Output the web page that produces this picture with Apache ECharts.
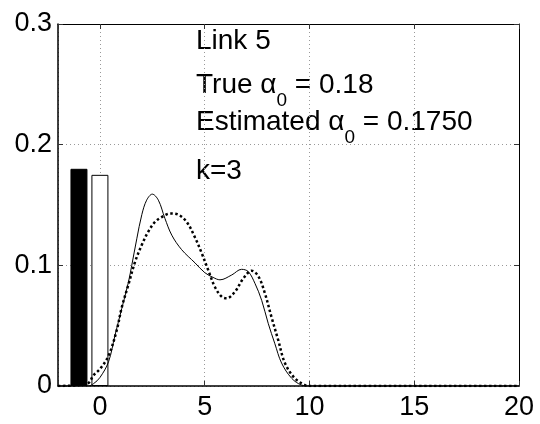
<!DOCTYPE html>
<html>
<head>
<meta charset="utf-8">
<script src="https://cdn.jsdelivr.net/npm/echarts@6/dist/echarts.min.js"></script>
<style>
html,body{margin:0;padding:0;background:#fff;}
#chart{width:540px;height:424px;}
</style>
</head>
<body>
<div id="chart"></div>
<script>
// bars: true vs estimated alpha0
var barX = [-1, 0];
var barY = [0.18, 0.175];

// solid curve
var solidX = [-2, -0.55, -0.3, 0, 0.41, 0.72, 1.04, 1.36, 1.52, 1.76, 2.0, 2.23, 2.5, 2.79, 3.1, 3.43, 3.9, 4.54, 5.0, 5.4, 5.73, 6.29, 6.76, 7.08, 7.4, 7.72, 8.03, 8.35, 8.67, 9.15, 9.62, 10, 20];
var solidY = [0, 0, 0.002, 0.007, 0.02, 0.042, 0.064, 0.086, 0.1, 0.122, 0.142, 0.154, 0.159, 0.154, 0.139, 0.125, 0.113, 0.102, 0.094, 0.09, 0.088, 0.092, 0.0967, 0.0948, 0.085, 0.071, 0.052, 0.035, 0.019, 0.0064, 0.0008, 0, 0];

// dotted curve
var dotX = [-2, -0.6, -0.3, 0, 0.41, 0.8, 1.04, 1.36, 1.68, 2.0, 2.31, 2.63, 2.95, 3.35, 3.74, 4.14, 4.54, 4.86, 5.17, 5.49, 5.81, 6.05, 6.44, 6.84, 7.24, 7.56, 7.87, 8.19, 8.51, 8.83, 9.3, 9.78, 10, 20];
var dotY = [0, 0.002, 0.009, 0.014, 0.025, 0.046, 0.065, 0.084, 0.103, 0.117, 0.128, 0.136, 0.14, 0.143, 0.142, 0.136, 0.123, 0.11, 0.096, 0.082, 0.074, 0.0727, 0.078, 0.089, 0.0955, 0.091, 0.077, 0.057, 0.038, 0.019, 0.0064, 0.0008, 0, 0];

var xLabels = [0, 5, 10, 15, 20];

var FONT = '"Liberation Sans", Arial, sans-serif';

function zip(a, b) {
  var out = [];
  for (var i = 0; i < a.length; i++) out.push([a[i], b[i]]);
  return out;
}

var barData = [
  {value: [barX[0], barY[0]], itemStyle: {color: '#000', borderColor: '#000', borderWidth: 1}},
  {value: [barX[1], barY[1]], itemStyle: {color: '#fff', borderColor: '#000', borderWidth: 1}}
];

var gridLine = {show: true, lineStyle: {color: '#999', type: [1, 3], width: 1}};
var tick = {show: true, inside: true, length: 5, lineStyle: {color: '#333'}};
var rt = {fontSize: 28, lineHeight: 28, fontFamily: FONT, color: '#000', verticalAlign: 'top'};
var rs = {fontSize: 19, lineHeight: 19, fontFamily: FONT, color: '#000', verticalAlign: 'top', padding: [20, 0, 0, 0]};

var chart = echarts.init(document.getElementById('chart'));
chart.setOption({
  backgroundColor: '#fff',
  animation: false,
  grid: {left: 58, right: 21, top: 24, bottom: 38},
  xAxis: [{
    type: 'value', min: -2, max: 20, position: 'bottom',
    axisLine: {show: true, onZero: false, lineStyle: {color: '#000', width: 1.5}},
    axisTick: tick,
    splitLine: gridLine,
    axisLabel: {
      color: '#000', fontSize: 27, fontFamily: FONT, margin: 8,
      formatter: function (v) { return xLabels.indexOf(v) >= 0 ? String(v) : ''; }
    }
  }, {
    type: 'value', min: -2, max: 20, position: 'top',
    axisLine: {show: true, onZero: false, lineStyle: {color: '#000', width: 1}},
    axisTick: tick, axisLabel: {show: false}, splitLine: {show: false}
  }],
  yAxis: [{
    type: 'value', min: 0, max: 0.3, interval: 0.1, position: 'left',
    axisLine: {show: true, onZero: false, lineStyle: {color: '#000', width: 1.5}},
    axisTick: tick,
    splitLine: gridLine,
    axisLabel: {color: '#000', fontSize: 27, fontFamily: FONT, margin: 6}
  }, {
    type: 'value', min: 0, max: 0.3, interval: 0.1, position: 'right',
    axisLine: {show: true, onZero: false, lineStyle: {color: '#000', width: 1}},
    axisTick: tick, axisLabel: {show: false}, splitLine: {show: false}
  }],
  series: [{
    type: 'bar', xAxisIndex: 0, yAxisIndex: 0,
    barWidth: 17, data: barData, z: 1
  }, {
    type: 'line', xAxisIndex: 0, yAxisIndex: 0,
    data: zip(solidX, solidY), showSymbol: false, smooth: 0.35,
    lineStyle: {color: '#000', width: 1}, z: 3
  }, {
    type: 'line', xAxisIndex: 0, yAxisIndex: 0,
    data: zip(dotX, dotY), showSymbol: false, smooth: 0.35,
    lineStyle: {color: '#000', width: 2.5, type: [2.5, 2.5], cap: 'butt'}, z: 3
  }],
  graphic: [
    {type: 'text', left: 196, top: 27, style: {text: '{t|Link 5}', rich: {t: rt}}},
    {type: 'text', left: 196, top: 71, style: {text: '{t|True α}{s|0}{t| = 0.18}', rich: {t: rt, s: rs}}},
    {type: 'text', left: 196, top: 108, style: {text: '{t|Estimated α}{s|0}{t| = 0.1750}', rich: {t: rt, s: rs}}},
    {type: 'text', left: 196, top: 157, style: {text: '{t|k=3}', rich: {t: rt}}}
  ]
});
</script>
</body>
</html>
